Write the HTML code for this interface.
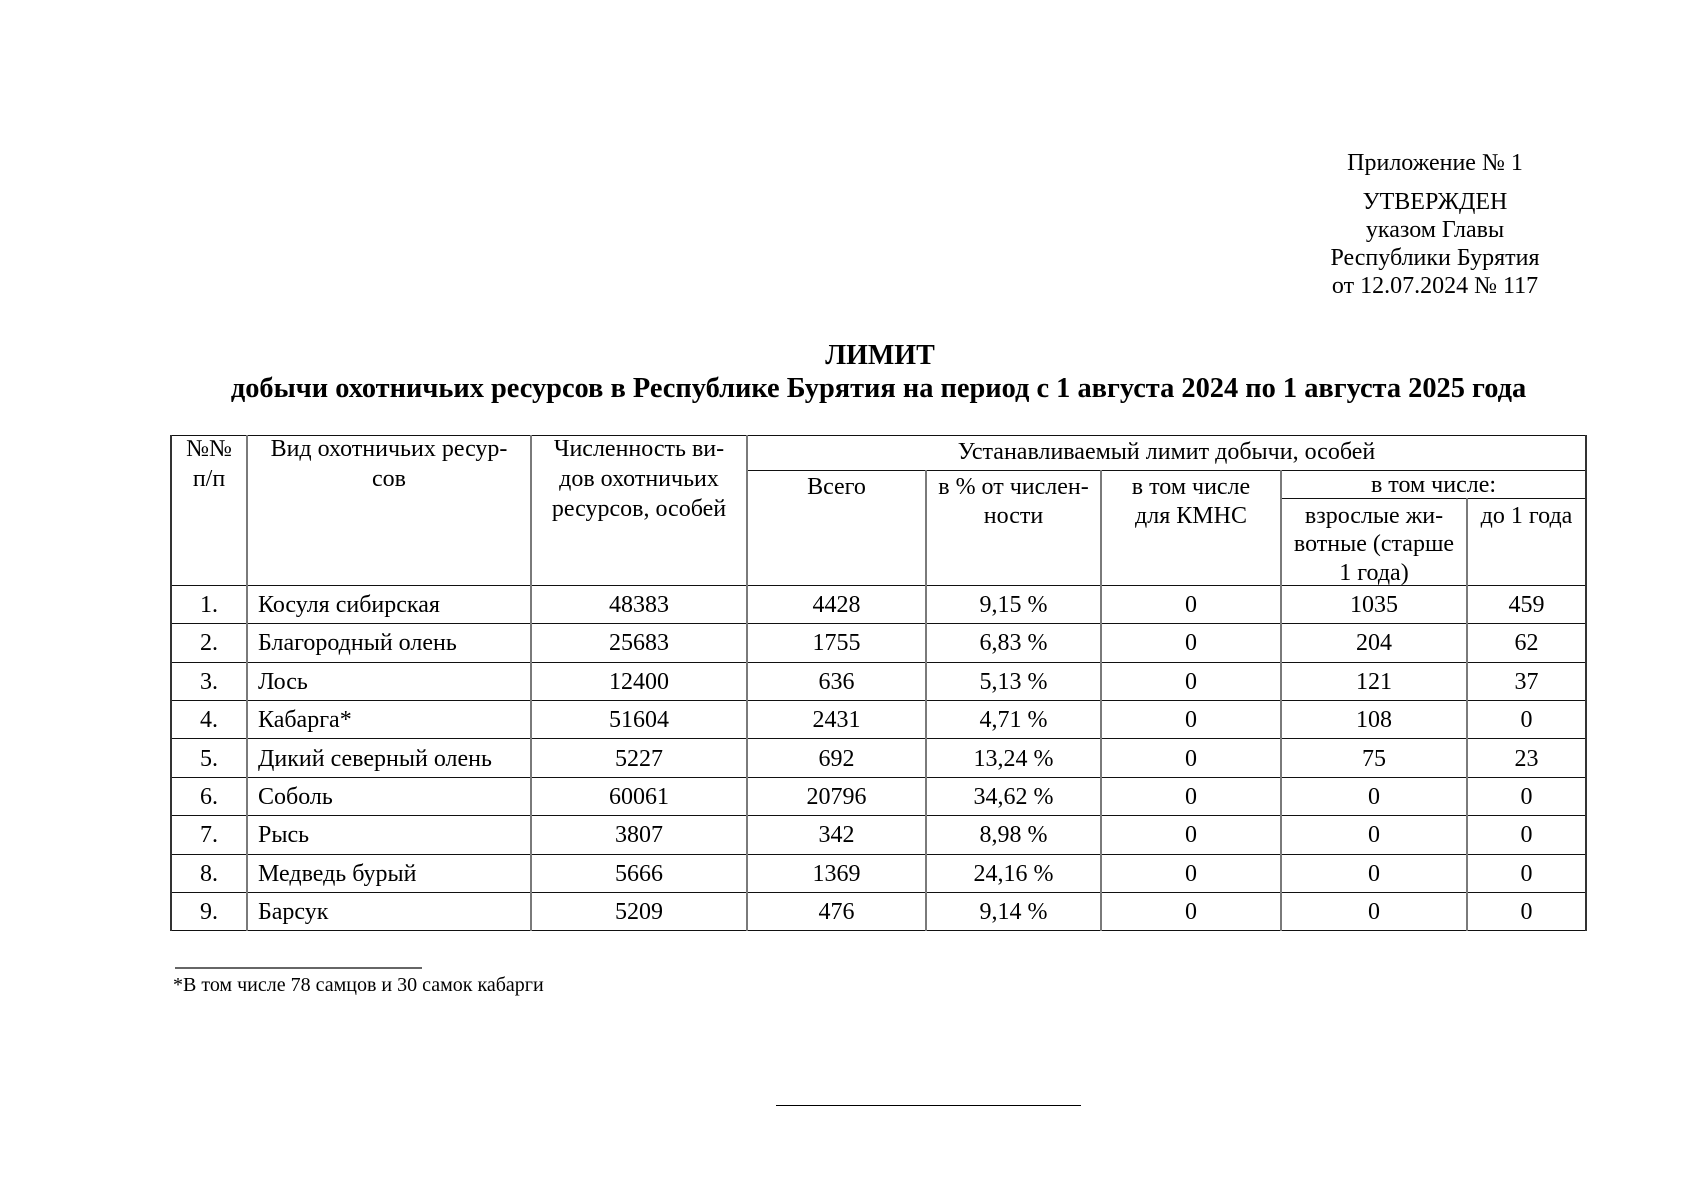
<!DOCTYPE html>
<html><head><meta charset="utf-8">
<style>
body{margin:0;width:1698px;height:1200px;background:#fff;position:relative;overflow:hidden;font-family:"Liberation Serif","DejaVu Serif",serif;color:#000}
.t{position:absolute;white-space:nowrap;text-align:center}
.h{position:absolute;background:#111;height:1px}
.v{position:absolute;background:#7a7a7a;width:2px}
.vo{position:absolute;background:#333;width:1.6px}
.hd{position:absolute;text-align:center;font-size:24px;line-height:29px;white-space:nowrap}
.row{position:absolute;left:171px;height:38.4px;display:flex;font-size:24px;line-height:38.4px;padding-top:1px}
.row div{text-align:center;white-space:nowrap}
.row div:nth-child(1){width:76px}
.row div:nth-child(2){width:284px;text-align:left;padding-left:11px;box-sizing:border-box}
.row div:nth-child(3){width:216px}
.row div:nth-child(4){width:179px}
.row div:nth-child(5){width:175px}
.row div:nth-child(6){width:180px}
.row div:nth-child(7){width:186px}
.row div:nth-child(8){width:119px}
</style></head>
<body>

<!-- Right header block -->
<div class="t" style="left:1235px;width:400px;top:149px;font-size:24px;line-height:28px;">Приложение № 1</div>
<div class="t" style="left:1235px;width:400px;top:188px;font-size:24px;line-height:28px;">УТВЕРЖДЕН<br>указом Главы<br>Республики Бурятия<br>от 12.07.2024 № 117</div>

<!-- Title -->
<div class="t" style="left:380px;width:1000px;top:339px;font-size:28px;line-height:34px;font-weight:bold;">ЛИМИТ</div>
<div class="t" style="left:0;width:1757px;top:372px;font-size:28.4px;line-height:34px;font-weight:bold;">добычи охотничьих ресурсов в Республике Бурятия на период с 1 августа 2024 по 1 августа 2025 года</div>

<!-- Table lines -->
<div class="h" style="left:171px;width:1415px;top:435px;"></div>
<div class="h" style="left:747px;width:839px;top:470px;"></div>
<div class="h" style="left:1281px;width:305px;top:498px;"></div>
<div class="h" style="left:171px;width:1415px;top:585px;"></div>
<div class="h" style="left:171px;width:1415px;top:623px;"></div>
<div class="h" style="left:171px;width:1415px;top:662px;"></div>
<div class="h" style="left:171px;width:1415px;top:700px;"></div>
<div class="h" style="left:171px;width:1415px;top:738px;"></div>
<div class="h" style="left:171px;width:1415px;top:777px;"></div>
<div class="h" style="left:171px;width:1415px;top:815px;"></div>
<div class="h" style="left:171px;width:1415px;top:854px;"></div>
<div class="h" style="left:171px;width:1415px;top:892px;"></div>
<div class="h" style="left:171px;width:1416px;top:930px;"></div>

<div class="vo" style="left:170.2px;top:435px;height:496px;"></div>
<div class="vo" style="left:1585.2px;top:435px;height:496px;"></div>
<div class="v" style="left:246px;top:435px;height:496px;"></div>
<div class="v" style="left:530px;top:435px;height:496px;"></div>
<div class="v" style="left:746px;top:435px;height:496px;"></div>
<div class="v" style="left:925px;top:470px;height:461px;"></div>
<div class="v" style="left:1100px;top:470px;height:461px;"></div>
<div class="v" style="left:1280px;top:470px;height:461px;"></div>
<div class="v" style="left:1466px;top:498px;height:433px;"></div>

<!-- Header texts -->
<div class="hd" style="left:171px;width:76px;top:434px;line-height:30px;">№№<br>п/п</div>
<div class="hd" style="left:247px;width:284px;top:434px;line-height:30px;">Вид охотничьих ресур-<br>сов</div>
<div class="hd" style="left:531px;width:216px;top:434px;line-height:30px;">Численность ви-<br>дов охотничьих<br>ресурсов, особей</div>
<div class="hd" style="left:747px;width:839px;top:438px;">Устанавливаемый лимит добычи, особей</div>
<div class="hd" style="left:747px;width:179px;top:473px;">Всего</div>
<div class="hd" style="left:926px;width:175px;top:473px;">в % от числен-<br>ности</div>
<div class="hd" style="left:1101px;width:180px;top:473px;">в том числе<br>для КМНС</div>
<div class="hd" style="left:1281px;width:305px;top:470.5px;">в том числе:</div>
<div class="hd" style="left:1281px;width:186px;top:501.5px;line-height:28.5px;">взрослые жи-<br>вотные (старше<br>1 года)</div>
<div class="hd" style="left:1467px;width:119px;top:501.5px;">до 1 года</div>

<!-- Body rows -->
<div class="row" style="top:585px;"><div>1.</div><div>Косуля сибирская</div><div>48383</div><div>4428</div><div>9,15 %</div><div>0</div><div>1035</div><div>459</div></div>
<div class="row" style="top:623.4px;"><div>2.</div><div>Благородный олень</div><div>25683</div><div>1755</div><div>6,83 %</div><div>0</div><div>204</div><div>62</div></div>
<div class="row" style="top:661.8px;"><div>3.</div><div>Лось</div><div>12400</div><div>636</div><div>5,13 %</div><div>0</div><div>121</div><div>37</div></div>
<div class="row" style="top:700.2px;"><div>4.</div><div>Кабарга*</div><div>51604</div><div>2431</div><div>4,71 %</div><div>0</div><div>108</div><div>0</div></div>
<div class="row" style="top:738.6px;"><div>5.</div><div>Дикий северный олень</div><div>5227</div><div>692</div><div>13,24 %</div><div>0</div><div>75</div><div>23</div></div>
<div class="row" style="top:777px;"><div>6.</div><div>Соболь</div><div>60061</div><div>20796</div><div>34,62 %</div><div>0</div><div>0</div><div>0</div></div>
<div class="row" style="top:815.4px;"><div>7.</div><div>Рысь</div><div>3807</div><div>342</div><div>8,98 %</div><div>0</div><div>0</div><div>0</div></div>
<div class="row" style="top:853.8px;"><div>8.</div><div>Медведь бурый</div><div>5666</div><div>1369</div><div>24,16 %</div><div>0</div><div>0</div><div>0</div></div>
<div class="row" style="top:892.2px;"><div>9.</div><div>Барсук</div><div>5209</div><div>476</div><div>9,14 %</div><div>0</div><div>0</div><div>0</div></div>

<!-- Footnote -->
<div style="position:absolute;left:175px;top:967px;width:247px;height:1.5px;background:#666;"></div>
<div class="t" style="left:173px;top:972.5px;font-size:20px;line-height:24px;text-align:left;">*В том числе 78 самцов и 30 самок кабарги</div>

<!-- Bottom line -->
<div style="position:absolute;left:776px;top:1104.5px;width:305px;height:1.6px;background:#000;"></div>

</body></html>
